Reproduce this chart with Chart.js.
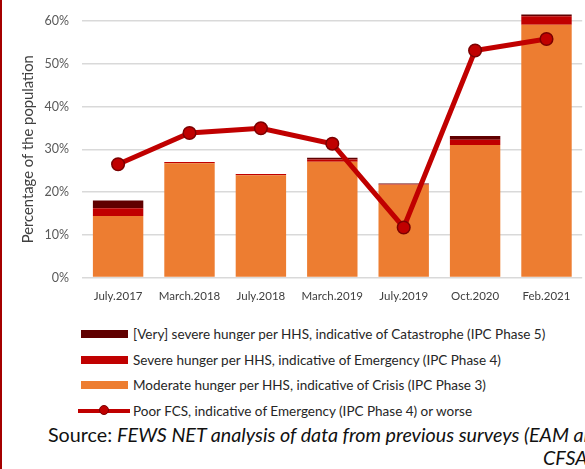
<!DOCTYPE html>
<html>
<head>
<meta charset="utf-8">
<script src="https://cdn.jsdelivr.net/npm/chart.js@4.4.0/dist/chart.umd.min.js"></script>
<style>
  html, body { margin: 0; padding: 0; background: #fff; overflow: hidden; }
  #page { position: relative; width: 585px; height: 469px; overflow: hidden; font-family: Lato, sans-serif; }
  #edge { position: absolute; left: 0; top: 0; width: 2px; height: 469px; background: #a50000; z-index: 2; }
  #wrap { position: absolute; left: 0; top: 0; width: 590px; height: 310px; }
  #legend { position: absolute; left: 78px; top: 321px; }
  .item { height: 25.7px; display: flex; align-items: center; font-size: 13.5px; color: #262626; white-space: nowrap; }
  .key { position: relative; width: 52px; height: 12px; margin-right: 3px; flex: none; }
  .key .bar { position: absolute; left: 3px; top: 2px; width: 47px; height: 8px; }
  .key .ln { position: absolute; left: 0; top: 4px; width: 52px; height: 4px; }
  .key .dot { position: absolute; left: 21px; top: 0; width: 10px; height: 10px; border-radius: 50%; box-sizing: border-box; border: 1.5px solid #7b0000; }
  .src { position: absolute; white-space: nowrap; font-size: 19.7px; color: #111; line-height: 24px; }
</style>
</head>
<body>
<div id="page">
  <div id="edge"></div>
  <div id="wrap"><canvas id="hhsChart"></canvas></div>
  <div id="legend"></div>
  <div class="src" style="left:48px; top:423px;">Source: <i>FEWS NET analysis of data from previous surveys (EAM and</i></div>
  <div class="src" style="left:543px; top:446px;"><i>CFSA).</i></div>
</div>
<script>
// survey rounds
const rounds = ['July.2017', 'March.2018', 'July.2018', 'March.2019', 'July.2019', 'Oct.2020', 'Feb.2021'];

// HHS stacks (% of population)
const phase3 = [14.4, 26.7, 23.9, 27.1, 21.7, 31.0, 59.1];
const phase4 = [1.8, 0.3, 0.3, 0.5, 0.1, 1.2, 2.0];
const phase5 = [1.8, 0.0, 0.0, 0.4, 0.2, 0.9, 0.4];

// Poor FCS line
const poorFcs = [26.5, 33.8, 34.9, 31.3, 11.7, 53.1, 55.8];

const yTicks = [0, 10, 20, 30, 40, 50, 60];

const labels = {
    p5: '[Very] severe hunger per HHS, indicative of Catastrophe (IPC Phase 5)',
    p4: 'Severe hunger per HHS, indicative of Emergency (IPC Phase 4)',
    p3: 'Moderate hunger per HHS, indicative of Crisis (IPC Phase 3)',
    fcs: 'Poor FCS, indicative of Emergency (IPC Phase 4) or worse'
};

const ORANGE = '#ed7d31';
const RED = '#c00000';
const DARK = '#600000';

const barBase = {
    type: 'bar',
    stack: 'hhs',
    order: 1,
    categoryPercentage: 1,
    barPercentage: 0.706,
    borderWidth: 0,
    clip: false
};

const chart = new Chart(document.getElementById('hhsChart'), {
    data: {
        labels: rounds,
        datasets: [
            { ...barBase, label: labels.p3, data: phase3, backgroundColor: ORANGE },
            { ...barBase, label: labels.p4, data: phase4, backgroundColor: RED },
            { ...barBase, label: labels.p5, data: phase5, backgroundColor: DARK },
            {
                type: 'line',
                label: labels.fcs,
                data: poorFcs,
                stack: 'fcs',
                order: 0,
                borderColor: RED,
                borderWidth: 5,
                pointRadius: 6.3,
                pointBackgroundColor: RED,
                pointBorderColor: '#7b0000',
                pointBorderWidth: 1.5,
                tension: 0,
                clip: false
            }
        ]
    },
    options: {
        responsive: true,
        maintainAspectRatio: false,
        animation: false,
        layout: { padding: { top: 21, right: 2, bottom: 0, left: 0 } },
        plugins: {
            legend: { display: false },
            tooltip: { enabled: false }
        },
        scales: {
            x: {
                stacked: true,
                afterFit: (axis) => { axis.height = 32.5; },
                grid: { display: false, drawTicks: false },
                border: { display: false },
                ticks: {
                    color: '#404040',
                    padding: 12,
                    maxRotation: 0,
                    font: { family: 'Lato', size: 11.5 }
                }
            },
            y: {
                stacked: true,
                min: 0,
                max: 60,
                afterBuildTicks: (axis) => { axis.ticks = yTicks.map(v => ({ value: v })); },
                afterFit: (axis) => { axis.width = 82.4; },
                grid: { color: '#d9d9d9', lineWidth: 1.5, drawTicks: false },
                border: { display: false },
                ticks: {
                    color: '#595959',
                    padding: 13.4,
                    font: { family: 'Lato', size: 12.5 },
                    callback: (v) => v + '%'
                },
                title: {
                    display: true,
                    text: 'Percentage of the population',
                    color: '#404040',
                    font: { family: 'Lato', size: 14.8 },
                    padding: { top: 19.5, bottom: 0 }
                }
            }
        }
    }
});

// legend in the same order as the reference
const legend = document.getElementById('legend');
[2, 1, 0, 3].forEach(i => {
    const ds = chart.data.datasets[i];
    const row = document.createElement('div');
    row.className = 'item';
    const key = document.createElement('div');
    key.className = 'key';
    if (ds.type === 'line') {
        key.innerHTML = '<div class="ln"></div><div class="dot"></div>';
        key.querySelector('.ln').style.background = ds.borderColor;
        key.querySelector('.dot').style.background = ds.pointBackgroundColor;
    } else {
        key.innerHTML = '<div class="bar"></div>';
        key.querySelector('.bar').style.background = ds.backgroundColor;
    }
    row.appendChild(key);
    row.appendChild(document.createTextNode(ds.label));
    legend.appendChild(row);
});
</script>
</body>
</html>
